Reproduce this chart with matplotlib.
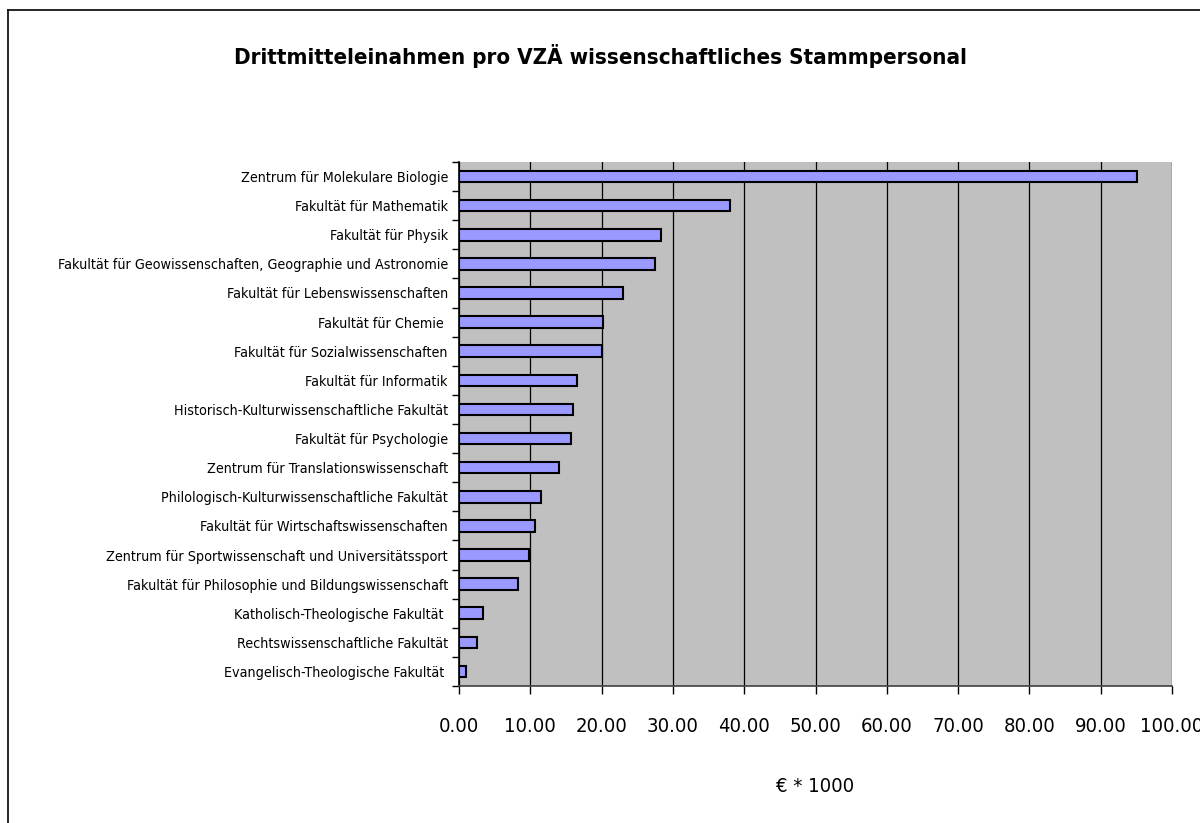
import matplotlib.pyplot as plt
import numpy as np
from matplotlib.lines import Line2D

# Fakultäten (von oben nach unten)
fakultaeten = [
    'Zentrum für Molekulare Biologie',
    'Fakultät für Mathematik',
    'Fakultät für Physik',
    'Fakultät für Geowissenschaften, Geographie und Astronomie',
    'Fakultät für Lebenswissenschaften',
    'Fakultät für Chemie ',
    'Fakultät für Sozialwissenschaften',
    'Fakultät für Informatik',
    'Historisch-Kulturwissenschaftliche Fakultät',
    'Fakultät für Psychologie',
    'Zentrum für Translationswissenschaft',
    'Philologisch-Kulturwissenschaftliche Fakultät',
    'Fakultät für Wirtschaftswissenschaften',
    'Zentrum für Sportwissenschaft und Universitätssport',
    'Fakultät für Philosophie und Bildungswissenschaft',
    'Katholisch-Theologische Fakultät ',
    'Rechtswissenschaftliche Fakultät',
    'Evangelisch-Theologische Fakultät ',
]

# Drittmitteleinnahmen pro VZÄ (€ * 1000)
werte = [95.1, 38.0, 28.3, 27.5, 23.0, 20.2, 20.05, 16.6, 16.0,
         15.75, 14.0, 11.5, 10.6, 9.8, 8.3, 3.35, 2.5, 0.95]

x_ticks = [0, 10, 20, 30, 40, 50, 60, 70, 80, 90, 100]

plt.rcParams['font.family'] = ['DejaVu Sans']
plt.rcParams['font.stretch'] = 'condensed'

fig = plt.figure(figsize=(12, 8.23), dpi=100)
ax = fig.add_axes([459 / 1200, 1 - 686 / 823, 713 / 1200, (686 - 162) / 823])

n = len(werte)
pos = np.arange(n)
ax.barh(pos, werte, height=0.4, color='#9999FF', edgecolor='black', linewidth=1.5, zorder=3)

ax.set_facecolor('#C0C0C0')
ax.set_xlim(0, 100)
ax.set_ylim(n - 0.5, -0.5)
ax.set_xticks(x_ticks)
ax.set_xticklabels(['%.2f' % v for v in x_ticks], fontsize=14.5)
ax.xaxis.grid(True, color='black', linewidth=0.9, zorder=1)
ax.set_axisbelow(True)

ax.set_yticks(pos)
ax.set_yticklabels(fakultaeten, fontsize=10.3)
ax.set_yticks(np.arange(n + 1) - 0.5, minor=True)
ax.tick_params(axis='y', which='major', length=0, pad=8)
ax.tick_params(axis='y', which='minor', length=5, width=1, direction='out')
ax.tick_params(axis='x', which='major', length=6, width=1, direction='out', pad=16)

for s in ['top', 'right']:
    ax.spines[s].set_visible(False)
ax.spines['left'].set_linewidth(1.2)
ax.spines['bottom'].set_linewidth(1.2)
ax.spines['bottom'].set_color('#404040')

ax.set_xlabel('€ * 1000', fontsize=14.5, labelpad=30)

fig.text(0.5, 1 - 56 / 823, 'Drittmitteleinahmen pro VZÄ wissenschaftliches Stammpersonal',
         ha='center', va='center', fontsize=16, fontweight='bold')

# Rahmen um das Diagramm
fig.add_artist(Line2D([8 / 1200, 8 / 1200], [0, 1 - 10 / 823], color='black', linewidth=1.2,
                      transform=fig.transFigure))
fig.add_artist(Line2D([8 / 1200, 1], [1 - 10 / 823, 1 - 10 / 823], color='black', linewidth=1.2,
                      transform=fig.transFigure))

plt.savefig('out.png', dpi=100)
